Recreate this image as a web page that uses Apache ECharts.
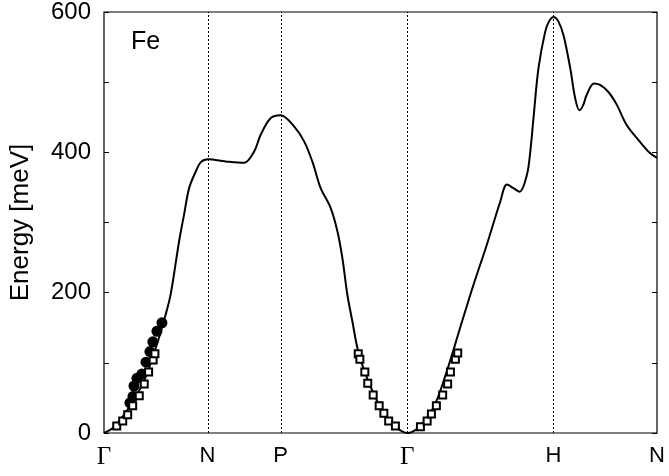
<!DOCTYPE html>
<html>
<head>
<meta charset="utf-8">
<script src="https://cdn.jsdelivr.net/npm/echarts@6/dist/echarts.min.js"></script>
<style>
  html, body { margin: 0; padding: 0; background: #fff; }
  #main { width: 669px; height: 476px; }
</style>
</head>
<body>
<div id="main"></div>
<script>
// path positions of the symmetry points (units of 2pi/a, bcc)
const kPoints = [0, 0.7071, 1.2071, 2.0731, 3.0731, 3.7802];
const kLabels = ['Γ', 'N', 'P', 'Γ', 'H', 'N'];

// calculated dispersion
const curveK = [0, 0.070, 0.173, 0.275, 0.355, 0.423, 0.457, 0.514, 0.548, 0.582, 0.628, 0.662, 0.712,
  0.832, 0.957, 1.026, 1.071, 1.140, 1.207, 1.299, 1.367, 1.424, 1.481, 1.549, 1.595, 1.629,
  1.663, 1.697, 1.742, 1.822, 1.913, 2.004, 2.073, 2.156, 2.254, 2.345, 2.436, 2.527, 2.618,
  2.709, 2.755, 2.798, 2.841, 2.891, 2.914, 2.936, 2.970, 3.016, 3.043, 3.073, 3.105, 3.141,
  3.187, 3.221, 3.250, 3.275, 3.300, 3.350, 3.391, 3.448, 3.505, 3.573, 3.664, 3.732, 3.780];
const curveE = [0, 9, 37, 75, 122, 170, 199, 274, 312, 349, 373, 386, 390,
  387, 385, 401, 425, 449, 453, 437, 416, 387, 349, 321, 288, 250,
  198, 160, 113, 66, 28, 7, 0, 9, 37, 89, 151, 212, 269,
  330, 354, 349, 344, 368, 401, 449, 520, 572, 587, 593, 587, 567,
  520, 477, 460, 467, 482, 498, 496, 486, 468, 439, 415, 399, 392];

// measured points, filled circles
const dotK = [0.177, 0.198, 0.205, 0.225, 0.259, 0.287, 0.314, 0.334, 0.362, 0.396];
const dotE = [43, 52, 67, 78, 84, 101, 116, 130, 145, 157];

// measured points, open squares
const sqK = [0.087, 0.128, 0.162, 0.196, 0.241, 0.275, 0.305, 0.336, 0.348,
  1.738, 1.749, 1.783, 1.803, 1.840, 1.881, 1.913, 1.946, 1.992,
  2.163, 2.209, 2.238, 2.272, 2.315, 2.349, 2.368, 2.402, 2.418];
const sqE = [10, 17, 26, 39, 53, 70, 87, 104, 113,
  113, 105, 87, 71, 54, 39, 28, 17, 10,
  9, 17, 27, 39, 54, 70, 87, 105, 114];

const yTicks = [0, 200, 400, 600];

function pairs(xs, ys) {
  return xs.map((x, i) => [x, ys[i]]);
}

let myChart = echarts.init(document.getElementById('main'));
myChart.setOption({
  animation: false,
  backgroundColor: '#fff',
  textStyle: { fontFamily: 'Liberation Sans' },
  grid: {
    left: 103, right: 12, top: 10, bottom: 43,
    show: true, borderColor: '#000', borderWidth: 1.2
  },
  xAxis: {
    type: 'value',
    min: kPoints[0],
    max: kPoints[kPoints.length - 1],
    axisLine: { show: false },
    axisTick: { show: false },
    splitLine: { show: false },
    axisLabel: {
      customValues: kPoints,
      margin: 12,
      fontSize: 22,
      color: '#000',
      formatter: function (v) {
        let i = kPoints.indexOf(v);
        if (i < 0) return '';
        return kLabels[i] === 'Γ' ? '{g|Γ}' : kLabels[i];
      },
      rich: {
        g: { fontFamily: 'Liberation Serif', fontSize: 25, color: '#000' }
      }
    }
  },
  yAxis: [
    {
      type: 'value',
      min: 0, max: 600, interval: 100,
      name: 'Energy [meV]',
      nameLocation: 'middle',
      nameRotate: 90,
      nameGap: 70,
      nameTextStyle: { fontSize: 26, color: '#000' },
      axisLine: { show: false },
      axisTick: { inside: true, length: 5, lineStyle: { color: '#000' } },
      splitLine: { show: false },
      axisLabel: {
        margin: 13, fontSize: 24, color: '#000',
        formatter: v => (yTicks.indexOf(v) >= 0 ? v : '')
      }
    },
    {
      type: 'value',
      position: 'right',
      min: 0, max: 600, interval: 100,
      axisLine: { show: false },
      axisTick: { inside: true, length: 5, lineStyle: { color: '#000' } },
      axisLabel: { show: false },
      splitLine: { show: false }
    }
  ],
  graphic: [{
    type: 'text', left: 131, top: 30,
    style: { text: 'Fe', fontSize: 25, fill: '#000', fontFamily: 'Liberation Sans' }
  }],
  series: [
    {
      type: 'line',
      data: pairs(curveK, curveE),
      smooth: 0.35,
      showSymbol: false,
      lineStyle: { color: '#000', width: 2 },
      z: 2,
      markLine: {
        silent: true,
        symbol: ['none', 'none'],
        label: { show: false },
        lineStyle: { color: '#000', type: [2, 2], width: 1 },
        data: kPoints.slice(1, 5).map(k => ({ xAxis: k }))
      }
    },
    {
      type: 'scatter',
      data: pairs(dotK, dotE),
      symbol: 'circle',
      symbolSize: 11,
      itemStyle: { color: '#000', opacity: 1 },
      z: 3
    },
    {
      type: 'scatter',
      data: pairs(sqK, sqE),
      symbol: 'rect',
      symbolSize: 7,
      itemStyle: { color: '#fff', borderColor: '#000', borderWidth: 2, opacity: 1 },
      z: 4
    }
  ]
});
</script>
</body>
</html>
